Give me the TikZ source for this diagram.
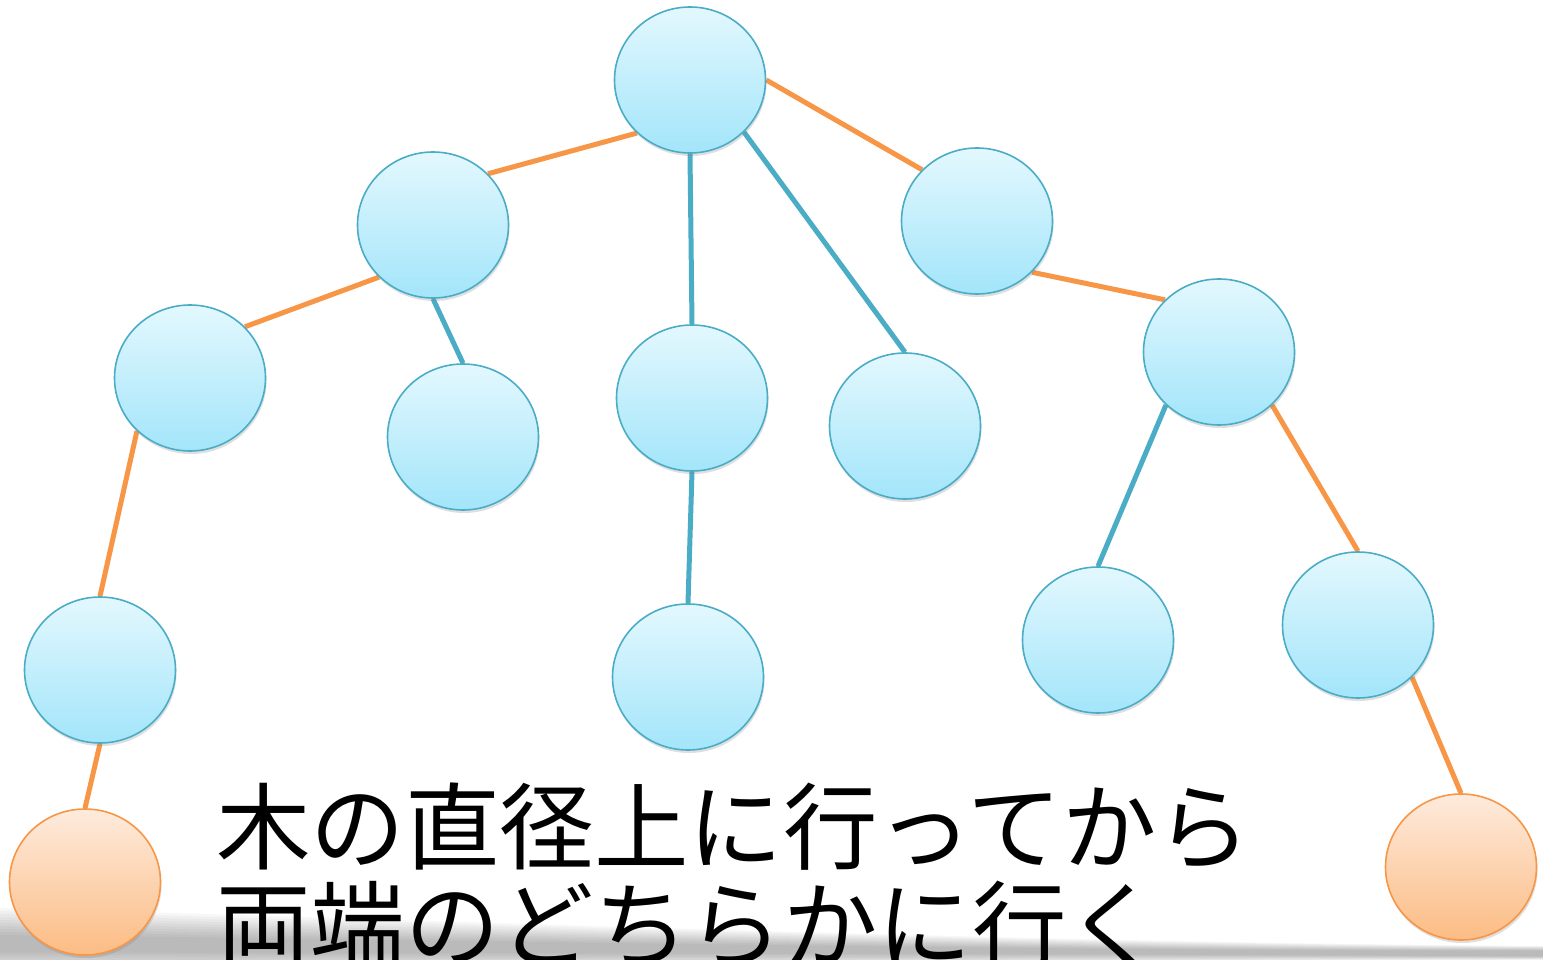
\documentclass[tikz,border=0pt]{standalone}
\usepackage{fontspec}
\newfontfamily\jpfont{Noto Sans CJK JP}
\usetikzlibrary{shapes.geometric,shadows,backgrounds}
\definecolor{bluedge}{HTML}{4BACC6}
\definecolor{orgedge}{HTML}{F79646}
\definecolor{bluetop}{HTML}{E3F8FE}
\definecolor{bluebot}{HTML}{A3E5FA}
\definecolor{orgtop}{HTML}{FDEBDD}
\definecolor{orgbot}{HTML}{FCBC84}
\tikzset{
  treenode/.style={ellipse, minimum width=151pt, minimum height=146pt, inner sep=0pt,
    line width=1.6pt, drop shadow={opacity=0.25, shadow xshift=1pt, shadow yshift=-3pt}},
  bnode/.style={treenode, draw=bluedge, top color=bluetop, bottom color=bluebot},
  onode/.style={treenode, draw=orgedge, top color=orgtop, bottom color=orgbot},
  bedge/.style={draw=bluedge, line width=5pt},
  oedge/.style={draw=orgedge, line width=5pt},
  bigtext/.style={anchor=base west, inner sep=0pt, font=\jpfont\fontsize{94.5}{106}\selectfont}
}
\begin{document}
\begin{tikzpicture}[x=1pt,y=-1pt]
\useasboundingbox (0,0) rectangle (1543,960);
\clip (0,0) rectangle (1543,960);
\node[bnode] (r) at (690,80) {};
\node[bnode] (a) at (433,225) {};
\node[bnode] (b) at (977,221) {};
\node[bnode] (c) at (190,378) {};
\node[bnode] (d) at (463,437) {};
\node[bnode] (e) at (692,398) {};
\node[bnode] (f) at (905,426) {};
\node[bnode] (g) at (1219,352) {};
\node[bnode] (h) at (100,670) {};
\node[bnode] (i) at (688,677) {};
\node[bnode] (j) at (1098,640) {};
\node[bnode] (k) at (1358,625) {};
\node[onode] (l) at (85,882) {};
\node[onode] (m) at (1461,867) {};
\node[bigtext] (t1) at (216,862) {木の直径上に行ってから};
\node[bigtext] (t2) at (216,960) {両端のどちらかに行く};
\begin{scope}[on background layer]
  \foreach \s in {0,...,9}
    \fill[black, opacity=0.03] (0,908+3*\s) .. controls (500,922+2*\s) and (1000,942+\s) .. (1543,946+0.5*\s)
      -- (1543,960-0.4*\s) .. controls (1000,962-\s) and (500,972-2*\s) .. (0,975-2.5*\s) -- cycle;
  \draw[oedge] (r.225) -- (a.43);
  \draw[oedge] (r.0) -- (b.137);
  \draw[oedge] (a.224) -- (c.43);
  \draw[oedge] (c.225) -- (h.90);
  \draw[oedge] (h.270) -- (l.90);
  \draw[oedge] (b.317) -- (g.136);
  \draw[oedge] (g.315) -- (k.90);
  \draw[oedge] (k.316) -- (m.90);
  \draw[bedge] (r.270) -- (e.90);
  \draw[bedge] (r.316) -- (f.90);
  \draw[bedge] (a.270) -- (d.90);
  \draw[bedge] (e.270) -- (i.90);
  \draw[bedge] (g.225) -- (j.90);
\end{scope}
\end{tikzpicture}
\end{document}
